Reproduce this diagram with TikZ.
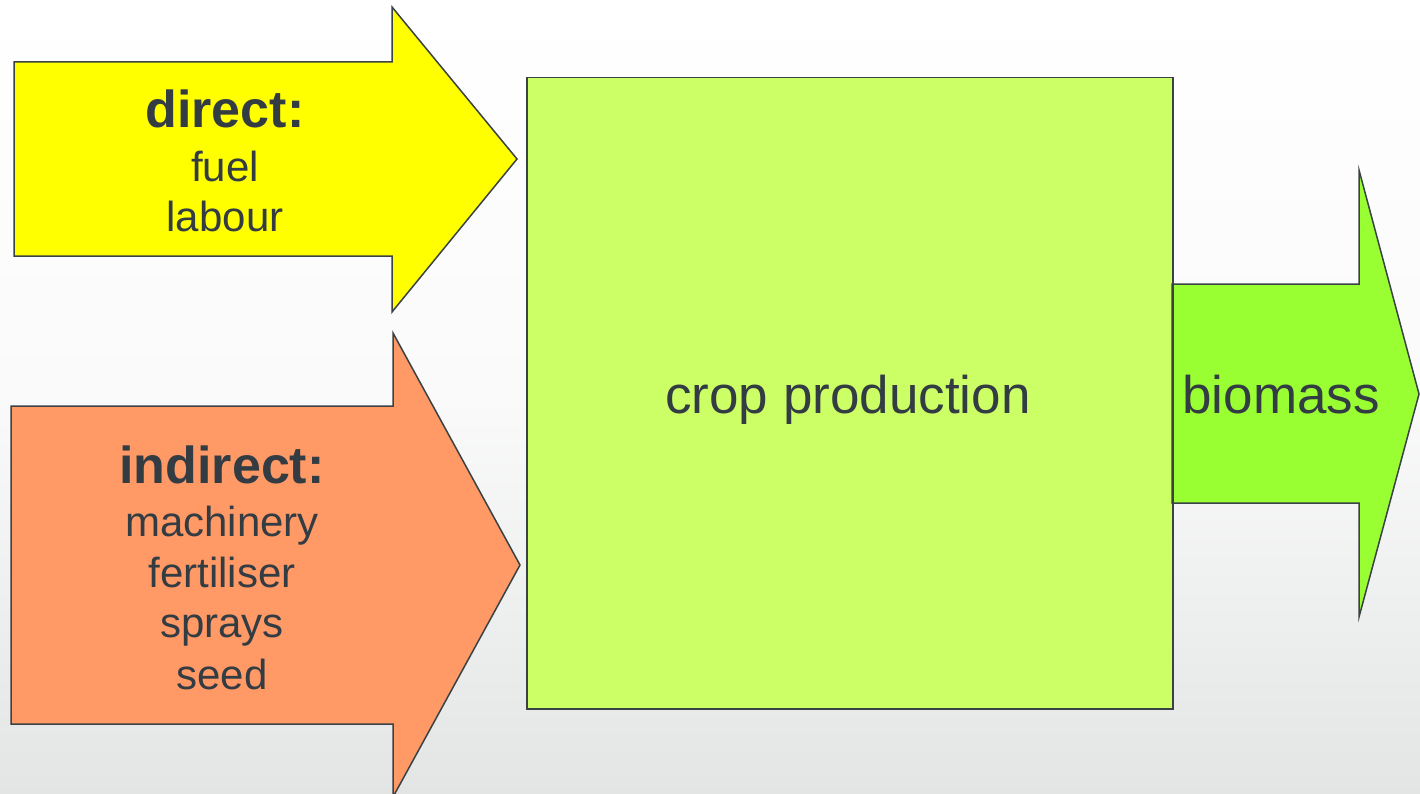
\documentclass[tikz,border=0pt]{standalone}
\usepackage{fontspec}
\setmainfont{Liberation Sans}
\definecolor{txt}{HTML}{323C42}
\definecolor{edge}{HTML}{3A4246}
\definecolor{yel}{HTML}{FFFF00}
\definecolor{ora}{HTML}{FF9966}
\definecolor{boxg}{HTML}{CCFF66}
\definecolor{bio}{HTML}{99FF33}
\definecolor{bgbot}{HTML}{E3E5E5}
\tikzset{
  shapeline/.style={draw=edge, line width=1.5pt, line join=miter},
  bigtxt/.style={text=txt, font=\fontsize{53}{60}\selectfont, inner sep=0pt},
  listtxt/.style={text=txt, align=center, inner sep=0pt, font=\fontsize{42}{50.5}\selectfont},
}
\begin{document}
\begin{tikzpicture}[x=1pt,y=-1pt]
\useasboundingbox (0,0) rectangle (1420,794);
\clip (0,0) rectangle (1420,794);
\shade[top color=white, bottom color=bgbot, middle color={rgb,255:red,250;green,250;blue,250}] (0,0) rectangle (1420,794);
% direct arrow
\path[shapeline, fill=yel] (14,62) -- (392,62) -- (392,7) -- (517,159) -- (392,312) -- (392,256) -- (14,256) -- cycle;
% indirect arrow
\path[shapeline, fill=ora] (11,406) -- (393,406) -- (393,333) -- (520,565) -- (393,797) -- (393,724) -- (11,724) -- cycle;
% crop production box
\node[shapeline, fill=boxg, minimum width=646pt, minimum height=631pt, inner sep=0pt, anchor=north west] (crop) at (526,77) {};
% biomass arrow
\path[shapeline, fill=bio] (1172,284) -- (1359,284) -- (1359,170) -- (1419,394) -- (1359,617) -- (1359,503) -- (1172,503) -- cycle;
\draw[draw=edge, line width=1.5pt] (crop.north east) -- (crop.south east);
% texts
\node[listtxt, anchor=base] (direct) at (225,128) {\bfseries\fontsize{52}{60}\selectfont direct:};
\node[listtxt, anchor=base] (fuel) at (225,182) {fuel};
\node[listtxt, anchor=base] (labour) at (225,232) {labour};
\node[listtxt, anchor=base] (indirect) at (222,483) {\bfseries\fontsize{52}{60}\selectfont indirect:};
\node[listtxt, anchor=base] (mach) at (222,536) {machinery};
\node[listtxt, anchor=base] (fert) at (222,587) {fertiliser};
\node[listtxt, anchor=base] (spr) at (222,637) {sprays};
\node[listtxt, anchor=base] (seed) at (222,689) {seed};
\node[bigtxt, anchor=base] (croptxt) at (848,413) {crop production};
\node[bigtxt, anchor=base] (biotxt) at (1281,413) {biomass};
\end{tikzpicture}
\end{document}
